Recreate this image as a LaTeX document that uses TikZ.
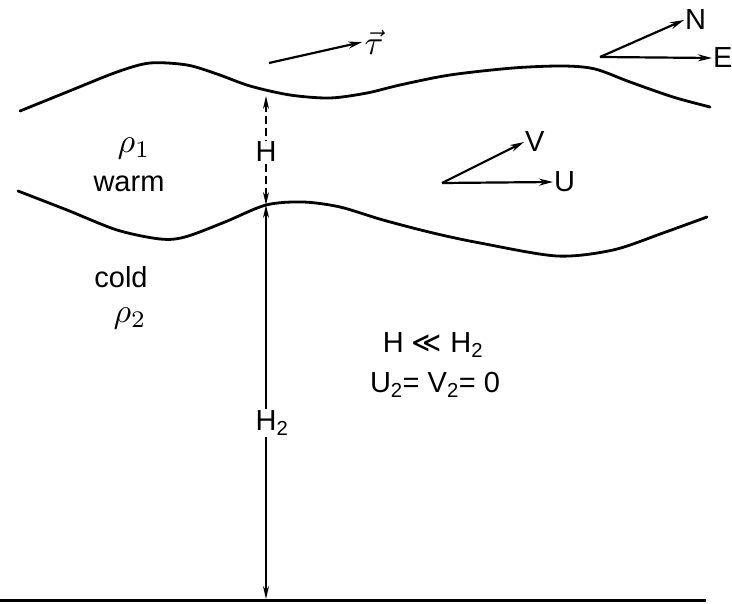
\documentclass[tikz,border=0pt]{standalone}
\usepackage{fontspec}
\setmainfont{Liberation Sans}
\newfontfamily\symfont{DejaVu Sans}
\usetikzlibrary{arrows.meta}
\begin{document}
\begin{tikzpicture}[x=1pt,y=-1pt,
  iface/.style={line width=2.8pt,line cap=round},
  vecarr/.style={line width=2.2pt,-{Stealth[length=14pt,width=7pt]}},
  dimarr/.style={line width=1.5pt,{Stealth[length=13pt,width=6pt]}-{Stealth[length=13pt,width=6pt]}},
  lbl/.style={inner sep=1pt,font=\fontsize{29}{32}\selectfont},
  mlbl/.style={inner sep=0.5pt,scale=3.4},
  onl/.style={lbl,fill=white,inner sep=1.5pt}]
\useasboundingbox (0,0) rectangle (732,604);
% interfaces
\draw[iface] plot[smooth,tension=0.5] coordinates {(20,111) (67,92) (117,72) (150,63) (187,65) (217,74) (250,86) (290,95) (330,98) (367,93) (400,85) (450,75) (513,68) (563,66) (595,69) (630,82) (673,97) (710,107)};
\draw[iface] plot[smooth,tension=0.5] coordinates {(18,191) (67,210) (117,230) (160,239) (185,237) (225,222) (266,205) (303,202) (340,207) (383,220) (433,233) (480,243) (557,256) (613,250) (663,233) (707,217)};
\draw[line width=3pt] (0,600) -- (706,600);
% coordinates
\coordinate (ht) at (266,96);
\coordinate (hm) at (266,205);
\coordinate (hb) at (266,599);
% H
\draw[dimarr,dash pattern=on 8pt off 4pt] (ht) -- (hm);
\node[onl] (hlab) at (266,152) {H};
% H2
\draw[dimarr] (hm) -- (hb);
\node[onl] (h2lab) at (272,423) {H\textsubscript{2}};
% tau
\coordinate (ts) at (269,63);
\node[mlbl] (tau) at (374,42) {$\vec{\tau}$};
\draw[vecarr] (ts) -- (tau.west);
% N E
\coordinate (ne) at (600,57);
\node[lbl,anchor=west] (N) at (684,20) {N};
\node[lbl,anchor=west] (E) at (712,58) {E};
\draw[vecarr] (ne) -- (N.west);
\draw[vecarr] (ne) -- (E.west);
% V U
\coordinate (uv) at (442,183);
\node[lbl,anchor=west] (V) at (524,142) {V};
\node[lbl,anchor=west] (U) at (553,182) {U};
\draw[vecarr] (uv) -- (V.west);
\draw[vecarr] (uv) -- (U.west);
% labels
\node[mlbl] (rho1) at (134,148) {$\rho_1$};
\node[lbl] (warm) at (129,184) {warm};
\node[lbl] (cold) at (121,277) {cold};
\node[mlbl] (rho2) at (130,318) {$\rho_2$};
\node[lbl] (rel) at (433,345) {H {\symfont ≪} H\textsubscript{2}};
\node[lbl] (uv2) at (435,385) {U\textsubscript{2}= V\textsubscript{2}= 0};
\end{tikzpicture}
\end{document}
